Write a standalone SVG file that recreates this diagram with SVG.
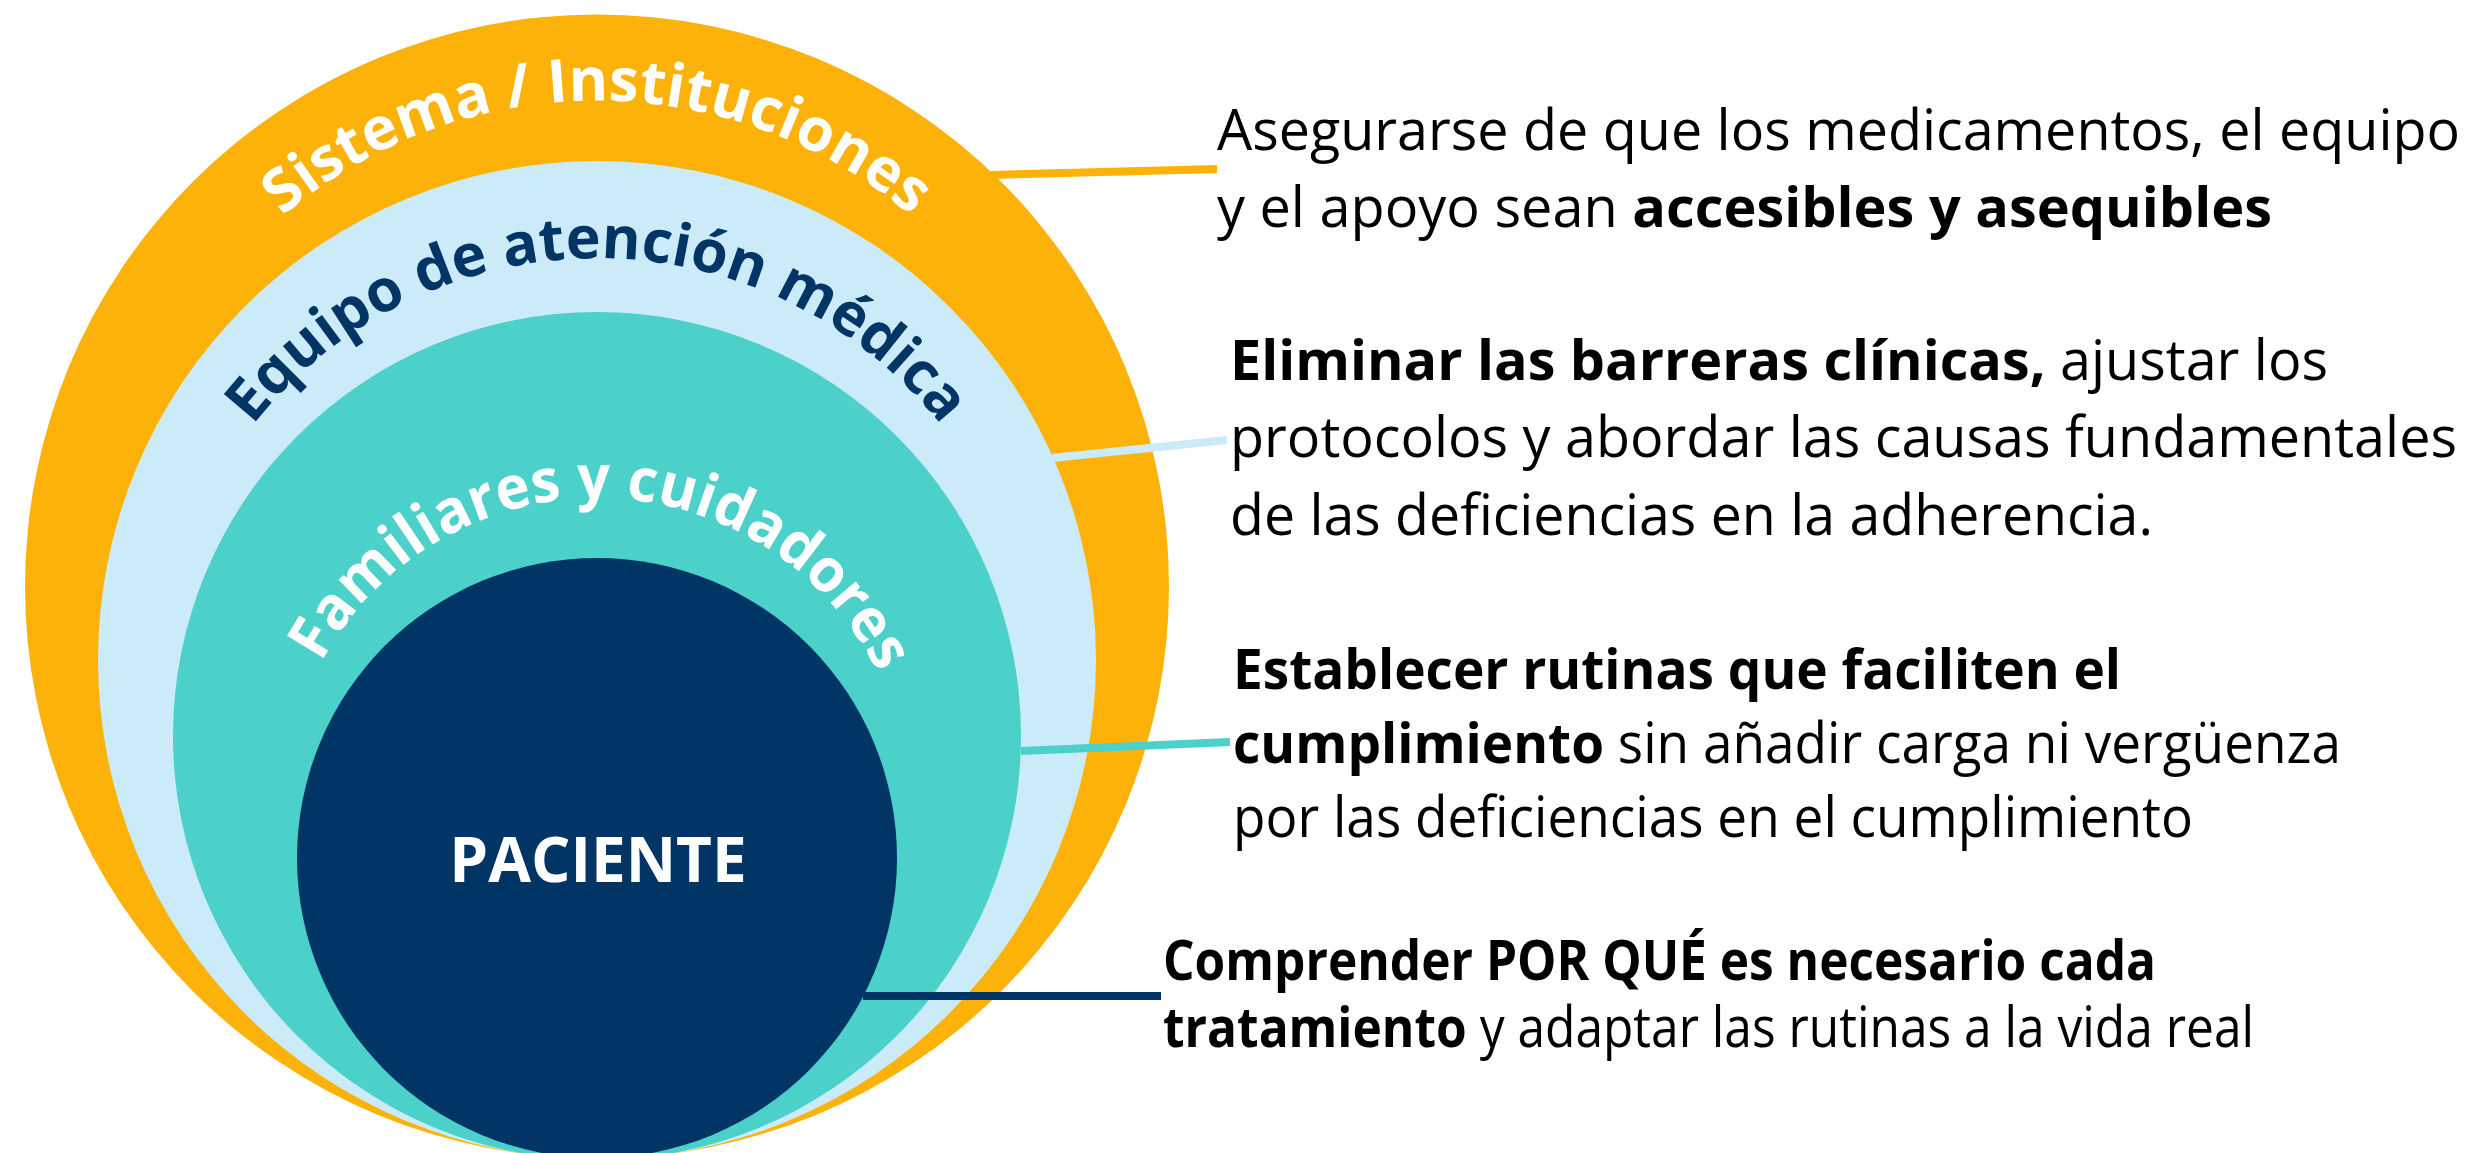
<svg xmlns="http://www.w3.org/2000/svg" width="2474" height="1153" viewBox="0 0 2474 1153">
<style>
.ring-label{font-family:"Open Sans","Noto Sans","DejaVu Sans",sans-serif;font-weight:700;}
.note{font-family:"Open Sans","Noto Sans","DejaVu Sans",sans-serif;font-size:56px;fill:#000;}
.b{font-weight:700;}
.conn{fill:none;stroke-width:8;stroke-linecap:butt;}
</style>
<defs>
<path id="arcSistema" d="M111,586.5 A486,486 0 0 1 1083,586.5"/>
<path id="arcEquipo" d="M159,696 A438,438 0 0 1 1035,696"/>
<path id="arcFamiliares" d="M284,811 A313,313 0 0 1 910,811"/>
</defs>
<rect width="2474" height="1153" fill="#ffffff"/>
<g id="sistema">
<circle cx="597" cy="586.5" r="572" fill="#FDB20A"/>
</g>
<g id="equipo">
<circle cx="597" cy="660" r="499" fill="#CBEBF8"/>
</g>
<g id="familiares">
<circle cx="597" cy="736" r="424" fill="#4BD0CA"/>
</g>
<g id="paciente">
<circle cx="597" cy="858" r="300" fill="#003566"/>
<text x="598" y="882" text-anchor="middle" class="ring-label" font-size="62" fill="#ffffff">PACIENTE</text>
</g>
<g id="ring-labels">
<text class="ring-label" font-size="60" fill="#ffffff"><textPath href="#arcSistema" startOffset="50%" text-anchor="middle">Sistema / Instituciones</textPath></text>
<text class="ring-label" font-size="59" fill="#003566"><textPath href="#arcEquipo" startOffset="50%" text-anchor="middle">Equipo de atención médica</textPath></text>
<text class="ring-label" font-size="60" fill="#ffffff"><textPath href="#arcFamiliares" startOffset="50.6%" text-anchor="middle" textLength="686" lengthAdjust="spacingAndGlyphs">Familiares y cuidadores</textPath></text>
</g>
<g id="connectors">
<line class="conn" x1="991" y1="175" x2="1217" y2="169" stroke="#FDB20A"/>
<line class="conn" x1="1052" y1="458" x2="1227" y2="440" stroke="#CBEBF8"/>
<line class="conn" x1="1021" y1="751" x2="1230" y2="742" stroke="#4BD0CA"/>
<line class="conn" x1="863" y1="996" x2="1161" y2="996" stroke="#003566"/>
</g>
<g id="note-sistema">
<text class="note" x="1217" y="150" textLength="1243" lengthAdjust="spacingAndGlyphs">Asegurarse de que los medicamentos, el equipo</text>
<text class="note" x="1217" y="227" textLength="1055" lengthAdjust="spacingAndGlyphs">y el apoyo sean <tspan class="b">accesibles y asequibles</tspan></text>
</g>
<g id="note-equipo">
<text class="note" x="1230" y="380" textLength="1098" lengthAdjust="spacingAndGlyphs"><tspan class="b">Eliminar las barreras clínicas,</tspan> ajustar los</text>
<text class="note" x="1230" y="457" textLength="1227" lengthAdjust="spacingAndGlyphs">protocolos y abordar las causas fundamentales</text>
<text class="note" x="1230" y="535" textLength="923" lengthAdjust="spacingAndGlyphs">de las deficiencias en la adherencia.</text>
</g>
<g id="note-familiares">
<text class="note" x="1233" y="689" font-size="54" textLength="888" lengthAdjust="spacingAndGlyphs"><tspan class="b">Establecer rutinas que faciliten el</tspan></text>
<text class="note" x="1233" y="763" font-size="54" textLength="1108" lengthAdjust="spacingAndGlyphs"><tspan class="b">cumplimiento</tspan> sin añadir carga ni vergüenza</text>
<text class="note" x="1233" y="837" font-size="54" textLength="960" lengthAdjust="spacingAndGlyphs">por las deficiencias en el cumplimiento</text>
</g>
<g id="note-paciente">
<text class="note" x="1163" y="980" font-size="49" textLength="993" lengthAdjust="spacingAndGlyphs"><tspan class="b">Comprender POR QUÉ es necesario cada</tspan></text>
<text class="note" x="1163" y="1047" font-size="49" textLength="1091" lengthAdjust="spacingAndGlyphs"><tspan class="b">tratamiento</tspan> y adaptar las rutinas a la vida real</text>
</g>
</svg>
